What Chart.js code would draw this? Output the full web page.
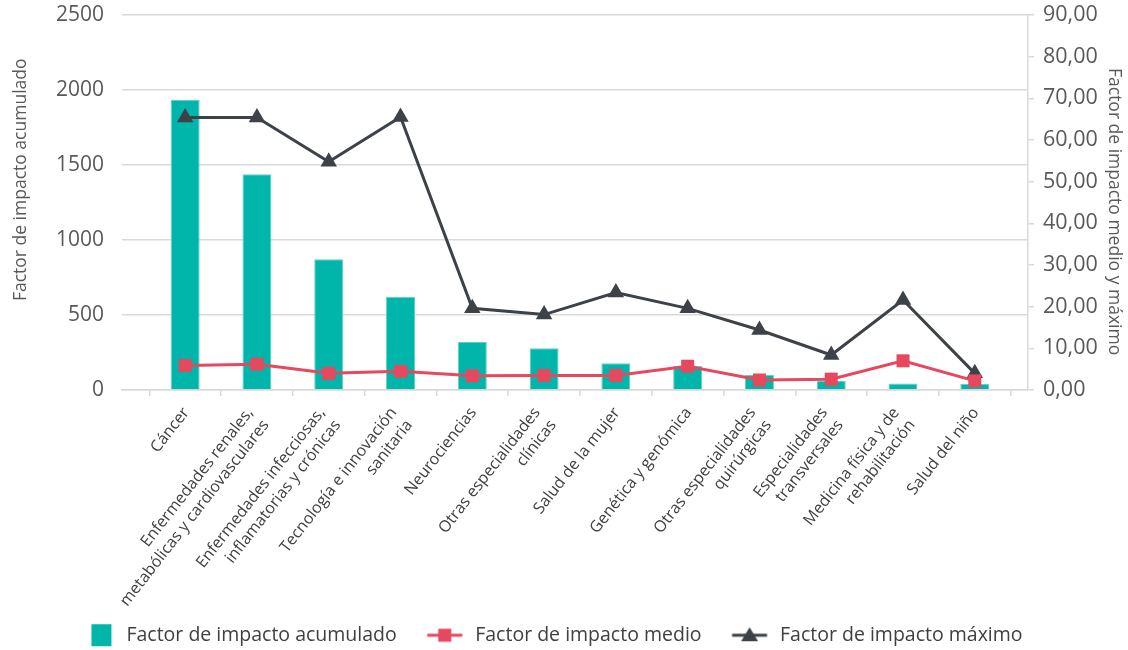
<!DOCTYPE html>
<html>
<head>
<meta charset="utf-8">
<script src="https://cdn.jsdelivr.net/npm/chart.js@4.4.1/dist/chart.umd.min.js"></script>
<style>
  html, body { margin: 0; padding: 0; background: #ffffff; }
  #wrap { width: 1128px; height: 650px; }
</style>
</head>
<body>
<div id="wrap"><canvas id="c" width="1128" height="650"></canvas></div>
<script>
// ---- data ----
const categories = [
  ["Cáncer"],
  ["Enfermedades renales,", "metabólicas y cardiovasculares"],
  ["Enfermedades infecciosas,", "inflamatorias y crónicas"],
  ["Tecnología e innovación", "sanitaria"],
  ["Neurociencias"],
  ["Otras especialidades", "clínicas"],
  ["Salud de la mujer"],
  ["Genética y genómica"],
  ["Otras especialidades", "quirúrgicas"],
  ["Especialidades", "transversales"],
  ["Medicina física y de", "rehabilitación"],
  ["Salud del niño"]
];
const acumulado = [1933, 1438, 871, 622, 320, 278, 178, 160, 100, 60, 44, 40];
const medio = [5.9, 6.2, 4.0, 4.5, 3.4, 3.5, 3.5, 5.7, 2.4, 2.6, 7.0, 2.2];
const maximo = [65.4, 65.4, 54.8, 65.5, 19.6, 18.1, 23.4, 19.6, 14.4, 8.4, 21.6, 4.0];
const leftTicks = [0, 500, 1000, 1500, 2000, 2500];
const rightTicks = [0, 10, 20, 30, 40, 50, 60, 70, 80, 90];
const seriesNames = ["Factor de impacto acumulado", "Factor de impacto medio", "Factor de impacto máximo"];
const axisTitles = ["Factor de impacto acumulado", "Factor de impacto medio y máximo"];

// ---- styles ----
const FONT = '"Open Sans", "Noto Sans", sans-serif';
const TEAL = '#00B5A9';
const RED = '#E6485E';
const DARK = '#3D4249';
const GRID = '#D9D9D9';
const TICK_TXT = '#595959';
const LABEL_TXT = '#404040';

// legend icons (drawn centred on item start + boxWidth/2)
const LEG_BOX = 11.25;
function makeIcon(kind, color) {
  const c = document.createElement('canvas');
  c.width = 80; c.height = 24;
  const g = c.getContext('2d');
  if (kind === 'bar') {
    g.fillStyle = color;
    g.fillRect(20.4, 1, 20, 22);
  } else {
    g.strokeStyle = color; g.lineWidth = 3;
    g.beginPath(); g.moveTo(7.4, 12); g.lineTo(42.4, 12); g.stroke();
    g.fillStyle = color;
    const cx = 24.9, cy = 12;
    if (kind === 'rect') {
      g.fillRect(cx - 6.5, cy - 6.5, 13, 13);
    } else {
      g.beginPath();
      g.moveTo(cx, cy - 8); g.lineTo(cx + 8.5, cy + 6); g.lineTo(cx - 8.5, cy + 6); g.closePath(); g.fill();
    }
  }
  return c;
}
const legendIcons = [makeIcon('bar', TEAL), makeIcon('rect', RED), makeIcon('tri', DARK)];

const LEGEND_PAD = 57.5;
const PAD_BOTTOM = -5;
const PLOT_BOTTOM = 390;

const catLabelPlugin = {
  id: 'catLabels',
  afterDraw(chart) {
    const {ctx, chartArea} = chart;
    const x = chart.scales.x;
    ctx.save();
    ctx.font = '16px ' + FONT;
    ctx.fillStyle = LABEL_TXT;
    ctx.textAlign = 'right';
    ctx.textBaseline = 'middle';
    const ang = -52 * Math.PI / 180;
    const L = 20;
    categories.forEach((lines, i) => {
      const n = lines.length;
      const h = n * L;
      const ax = x.getPixelForValue(i) + 1;
      const ay = chartArea.bottom + 13.6 + (h / 2) * Math.cos(ang);
      ctx.save();
      ctx.translate(ax, ay);
      ctx.rotate(ang);
      lines.forEach((t, j) => ctx.fillText(t, 0, (j - (n - 1) / 2) * L));
      ctx.restore();
    });
    ctx.restore();
  }
};

const noVPad = s => { s.paddingTop = 0; s.paddingBottom = 0; };

new Chart(document.getElementById('c'), {
  type: 'bar',
  data: {
    datasets: [
      {
        type: 'bar', label: seriesNames[0],
        data: acumulado.map((v, i) => ({x: i, y: v})),
        yAxisID: 'y', backgroundColor: TEAL, borderColor: '#62D0C8', borderWidth: 1,
        barPercentage: 0.404, categoryPercentage: 1, order: 3
      },
      {
        type: 'line', label: seriesNames[1],
        data: medio.map((v, i) => ({x: i, y: v})),
        yAxisID: 'y2', borderColor: RED, backgroundColor: RED, borderWidth: 3,
        pointStyle: 'rect', pointRadius: 9.2, pointBackgroundColor: RED, pointBorderWidth: 0,
        tension: 0, order: 1
      },
      {
        type: 'line', label: seriesNames[2],
        data: maximo.map((v, i) => ({x: i, y: v})),
        yAxisID: 'y2', borderColor: DARK, backgroundColor: DARK, borderWidth: 3,
        pointStyle: 'triangle', pointRadius: 9.5, pointBackgroundColor: DARK, pointBorderWidth: 0,
        tension: 0, order: 2
      }
    ]
  },
  options: {
    responsive: false,
    animation: false,
    devicePixelRatio: 1,
    layout: { padding: { top: 15, left: 0, right: 0, bottom: PAD_BOTTOM } },
    plugins: {
      tooltip: { enabled: false },
      legend: {
        position: 'bottom',
        labels: {
          usePointStyle: true,
          pointStyleWidth: LEG_BOX,
          padding: LEGEND_PAD,
          color: LABEL_TXT,
          font: { family: FONT, size: 19.5 },
          generateLabels: chart => chart.data.datasets.map((ds, i) => ({
            text: ds.label, pointStyle: legendIcons[i], fillStyle: 'rgba(0,0,0,0)',
            strokeStyle: 'rgba(0,0,0,0)', lineWidth: 0, hidden: false, datasetIndex: i,
            fontColor: LABEL_TXT
          }))
        }
      }
    },
    scales: {
      x: {
        type: 'linear', min: -0.88, max: 11.741, offset: false,
        afterBuildTicks: s => { s.ticks = categories.map((c, i) => ({value: i})); },
        afterFit: s => {
          const lh = s.chart.legend ? s.chart.legend.height : 0;
          s.height = s.chart.height - PLOT_BOTTOM - lh - PAD_BOTTOM;
          s.paddingLeft = 0; s.paddingRight = 0;
        },
        ticks: { display: false },
        grid: { offset: true, drawOnChartArea: false, tickLength: 6, color: GRID, lineWidth: 1.5 },
        border: { display: true, color: GRID, width: 1.5 }
      },
      y: {
        position: 'left', min: 0, max: 2500,
        afterBuildTicks: s => { s.ticks = leftTicks.map(v => ({value: v})); },
        afterFit: s => { s.width = 122; noVPad(s); },
        ticks: { color: TICK_TXT, font: { family: FONT, size: 21 }, padding: 18, callback: v => String(v) },
        grid: { color: GRID, lineWidth: 1.5, drawTicks: false },
        border: { display: false },
        title: { display: true, text: '          ' + axisTitles[0], color: TICK_TXT, font: { family: FONT, size: 17.5 }, padding: { top: 11, bottom: 0 } }
      },
      y2: {
        position: 'right', min: 0, max: 90,
        afterBuildTicks: s => { s.ticks = rightTicks.map(v => ({value: v})); },
        afterFit: s => { s.width = 100; noVPad(s); },
        ticks: {
          color: TICK_TXT, font: { family: FONT, size: 21.5 }, padding: 9,
          callback: v => v.toFixed(2).replace('.', ',')
        },
        grid: { drawOnChartArea: false, tickLength: 6, color: GRID, lineWidth: 1.5 },
        border: { display: true, color: GRID, width: 1.5 },
        title: { display: true, text: '    ' + axisTitles[1], color: TICK_TXT, font: { family: FONT, size: 17.5 }, padding: { top: 3.5, bottom: 0 } }
      }
    }
  },
  plugins: [catLabelPlugin]
});
</script>
</body>
</html>
